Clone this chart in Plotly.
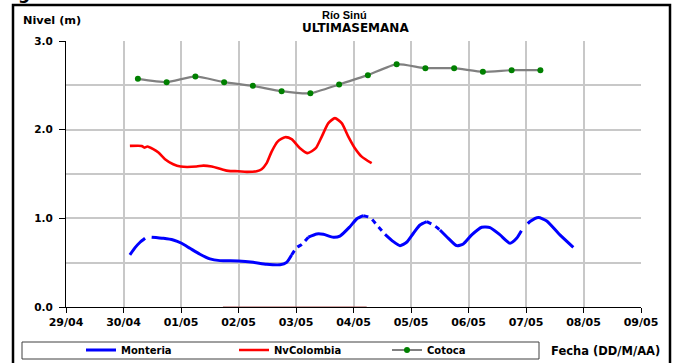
import plotly.graph_objects as go

# ---------------- data ----------------
monteria_times = [
    "2013-04-30 02:40", "2013-04-30 04:50", "2013-04-30 06:55", "2013-04-30 09:00",
    "2013-04-30 10:20",
    "2013-04-30 11:45", "2013-04-30 16:40", "2013-04-30 20:45", "2013-05-01 00:15",
    "2013-05-01 03:45", "2013-05-01 07:55", "2013-05-01 12:05", "2013-05-01 16:15",
    "2013-05-01 23:55", "2013-05-02 06:10", "2013-05-02 11:45", "2013-05-02 17:20",
    "2013-05-02 20:05", "2013-05-02 22:10", "2013-05-03 00:15", "2013-05-03 02:25",
    "2013-05-03 05:10", "2013-05-03 08:40", "2013-05-03 11:25", "2013-05-03 15:35",
    "2013-05-03 18:20", "2013-05-03 22:30", "2013-05-04 01:20", "2013-05-04 04:05",
    "2013-05-04 06:55", "2013-05-04 10:20", "2013-05-04 13:10", "2013-05-04 16:40",
    "2013-05-04 19:25", "2013-05-04 22:10", "2013-05-05 01:00", "2013-05-05 03:45",
    "2013-05-05 06:35", "2013-05-05 09:20", "2013-05-05 12:05", "2013-05-05 15:35",
    "2013-05-05 19:05", "2013-05-05 21:50", "2013-05-06 01:20", "2013-05-06 05:30",
    "2013-05-06 09:00", "2013-05-06 13:10", "2013-05-06 17:20", "2013-05-06 20:05",
    "2013-05-06 22:05", "2013-05-06 23:30", "2013-05-07 00:45", "2013-05-07 01:40",
    "2013-05-07 05:10", "2013-05-07 08:40", "2013-05-07 14:10", "2013-05-07 19:45",
]
monteria_values = [
    0.587, 0.669, 0.730, 0.775,
    None,
    0.787, 0.775, 0.756, 0.719,
    0.662, 0.595, 0.542, 0.523,
    0.519, 0.504, 0.482, 0.477,
    0.504, 0.587, 0.669, 0.707,
    0.787, 0.824, 0.820, 0.787,
    0.800, 0.906, 0.993, 1.030,
    1.008, 0.906, 0.820, 0.737,
    0.692, 0.730, 0.832, 0.925,
    0.963, 0.925, 0.869, 0.775,
    0.692, 0.711, 0.813, 0.900,
    0.896, 0.813, 0.719, 0.775,
    0.860, None, 0.940, 0.963,
    1.008, 0.971, 0.813, 0.673,
]
# 1 = segment from this reading to the next one is drawn dashed (sparse data)
monteria_dashed_after = [
    0, 0, 0, 0,
    0,
    0, 0, 0, 0,
    0, 0, 0, 0,
    0, 0, 0, 0,
    0, 1, 1, 1,
    0, 0, 0, 0,
    0, 0, 0, 1,
    1, 1, 0, 0,
    0, 0, 0, 0,
    1, 1, 0, 0,
    0, 0, 0, 0,
    0, 0, 0, 0,
    0, 0, 0, 0,
    0, 0, 0, 0,
]

nvcolombia_times = [
    "2013-04-30 02:40", "2013-04-30 07:35", "2013-04-30 08:40", "2013-04-30 10:00",
    "2013-04-30 12:25", "2013-04-30 14:35", "2013-04-30 17:20", "2013-04-30 20:45",
    "2013-04-30 23:50", "2013-05-01 06:30", "2013-05-01 09:20", "2013-05-01 12:50",
    "2013-05-01 17:00", "2013-05-01 19:45", "2013-05-01 23:55", "2013-05-02 03:25",
    "2013-05-02 07:35", "2013-05-02 09:40", "2013-05-02 11:45", "2013-05-02 13:50",
    "2013-05-02 16:20", "2013-05-02 19:25", "2013-05-02 22:10", "2013-05-03 01:40",
    "2013-05-03 04:50", "2013-05-03 08:15", "2013-05-03 10:45", "2013-05-03 13:30",
    "2013-05-03 16:15", "2013-05-03 19:05", "2013-05-03 21:50", "2013-05-04 00:35",
    "2013-05-04 03:25", "2013-05-04 07:35",
]
nvcolombia_values = [
    1.817, 1.817, 1.798, 1.810,
    1.780, 1.742, 1.667, 1.610,
    1.584, 1.584, 1.595, 1.584,
    1.554, 1.535, 1.531, 1.524,
    1.531, 1.554, 1.622, 1.753,
    1.866, 1.915, 1.893, 1.791,
    1.735, 1.791, 1.922, 2.073,
    2.130, 2.073, 1.922, 1.791,
    1.696, 1.622,
]

nvcolombia_zero_times = ["2013-05-01 17:30", "2013-05-04 05:30"]
nvcolombia_zero_values = [0.0, 0.0]

cotoca_times = [
    "2013-04-30 06:00", "2013-04-30 18:00", "2013-05-01 06:00", "2013-05-01 18:00",
    "2013-05-02 06:00", "2013-05-02 18:00", "2013-05-03 06:00", "2013-05-03 18:00",
    "2013-05-04 06:00", "2013-05-04 18:00", "2013-05-05 06:00", "2013-05-05 18:00",
    "2013-05-06 06:00", "2013-05-06 18:00", "2013-05-07 06:00",
]
cotoca_values = [
    2.573, 2.536, 2.600, 2.536, 2.494, 2.434, 2.410, 2.510,
    2.615, 2.739, 2.694, 2.694, 2.652, 2.671, 2.671,
]

x_range = ["2013-04-29", "2013-05-09"]
y_tickvals = [0, 1, 2, 3]
y_ticktext = ["0.0", "1.0", "2.0", "3.0"]

# ---------------- split Monteria into solid / dashed runs ----------------
solid_x, solid_y = [], []
dash_x, dash_y = [], []
n = len(monteria_times)
for i in range(n):
    solid_x.append(monteria_times[i])
    solid_y.append(monteria_values[i])
    if i < n - 1 and monteria_dashed_after[i]:
        solid_x.append(None)
        solid_y.append(None)
        if not dash_x or dash_x[-1] != monteria_times[i]:
            if dash_x:
                dash_x.append(None)
                dash_y.append(None)
            dash_x.append(monteria_times[i])
            dash_y.append(monteria_values[i])
        dash_x.append(monteria_times[i + 1])
        dash_y.append(monteria_values[i + 1])

FONT = "DejaVu Sans"
BLUE = "#0000FF"
RED = "#FF0000"

fig = go.Figure()

fig.add_trace(go.Scatter(
    x=nvcolombia_zero_times, y=nvcolombia_zero_values, mode="lines",
    line=dict(color="#A04848", width=1.2), showlegend=False, hoverinfo="skip",
))
fig.add_trace(go.Scatter(
    x=solid_x, y=solid_y, mode="lines", name="Monteria",
    line=dict(color=BLUE, width=3, shape="spline", smoothing=0.6),
    connectgaps=False,
))
fig.add_trace(go.Scatter(
    x=dash_x, y=dash_y, mode="lines", showlegend=False,
    line=dict(color=BLUE, width=3, shape="spline", smoothing=0.6, dash="5px,5px"),
    connectgaps=False,
))
fig.add_trace(go.Scatter(
    x=nvcolombia_times, y=nvcolombia_values, mode="lines", name="NvColombia",
    line=dict(color=RED, width=2.6, shape="spline", smoothing=0.6),
))
fig.add_trace(go.Scatter(
    x=cotoca_times, y=cotoca_values, mode="lines+markers", name="Cotoca",
    line=dict(color="#808080", width=2.2, shape="spline", smoothing=0.5),
    marker=dict(color="#008000", size=6),
))

L, R, T, B = 66, 35, 41, 56
W, H = 676, 363
pw, ph = W - L - R, H - T - B


def px(xp):
    return (xp - L) / pw


def py(yp):
    return (H - B - yp) / ph


fig.update_layout(
    width=W, height=H,
    margin=dict(l=L, r=R, t=T, b=B, autoexpand=False),
    paper_bgcolor="white", plot_bgcolor="white",
    font=dict(family=FONT, size=11, color="black"),
    showlegend=True,
    legend=dict(
        orientation="h", x=px(81), y=py(350), xanchor="left", yanchor="middle",
        font=dict(family=FONT, size=10, color="black", weight="bold"),
        bgcolor="rgba(0,0,0,0)", borderwidth=0,
        entrywidth=108, entrywidthmode="pixels",
        traceorder="normal",
    ),
    xaxis=dict(
        type="date", range=x_range, dtick=86400000, tick0="2013-04-29",
        tickformat="%d/%m", showgrid=True, gridcolor="#C8C8C8", gridwidth=1.5,
        showline=True, linecolor="black", linewidth=1,
        ticks="outside", ticklen=5, tickcolor="black",
        tickfont=dict(family=FONT, size=11, color="black", weight="bold"),
        zeroline=False, fixedrange=True,
    ),
    yaxis=dict(
        range=[0, 3], tickvals=y_tickvals, ticktext=y_ticktext,
        showgrid=True, gridcolor="#C8C8C8", gridwidth=1.5,
        minor=dict(dtick=0.5, tick0=0, showgrid=True, gridcolor="#C8C8C8", gridwidth=1.5, ticks=""),
        showline=True, linecolor="black", linewidth=1,
        ticks="outside", ticklen=6, tickcolor="black",
        ticklabelstandoff=4,
        tickfont=dict(family=FONT, size=10.5, color="black", weight="bold"),
        zeroline=False, fixedrange=True,
    ),
    shapes=[
        dict(type="rect", xref="paper", yref="paper",
             x0=px(13), x1=px(670), y0=py(372), y1=py(5),
             line=dict(color="black", width=2.5), fillcolor="rgba(0,0,0,0)", layer="above"),
        dict(type="rect", xref="paper", yref="paper",
             x0=px(22), x1=px(539), y0=py(359), y1=py(342),
             line=dict(color="#404040", width=1), fillcolor="rgba(0,0,0,0)", layer="above"),
    ],
    annotations=[
        dict(text="g", xref="paper", yref="paper", x=px(24), y=py(-7),
             showarrow=False, xanchor="center", yanchor="middle",
             font=dict(family=FONT, size=17, color="black", weight="bold")),
        dict(text="Río Sinú", xref="paper", yref="paper", x=px(344), y=py(15),
             showarrow=False, xanchor="center", yanchor="middle",
             font=dict(family="Liberation Sans", size=11, color="black", weight="bold")),
        dict(text="ULTIMASEMANA", xref="paper", yref="paper", x=px(355), y=py(28),
             showarrow=False, xanchor="center", yanchor="middle",
             font=dict(family=FONT, size=12, color="black", weight="bold")),
        dict(text="Nivel (m)", xref="paper", yref="paper", x=px(52), y=py(21),
             showarrow=False, xanchor="center", yanchor="middle",
             font=dict(family=FONT, size=11.3, color="black", weight="bold")),
        dict(text="Fecha (DD/M/AA)", xref="paper", yref="paper", x=px(605), y=py(351),
             showarrow=False, xanchor="center", yanchor="middle",
             font=dict(family=FONT, size=11.5, color="black", weight="bold")),
    ],
)

fig.write_html(
    "out.html",
    config={"displayModeBar": False},
    post_script="document.body.style.margin='0';document.body.style.overflow='hidden';",
)
